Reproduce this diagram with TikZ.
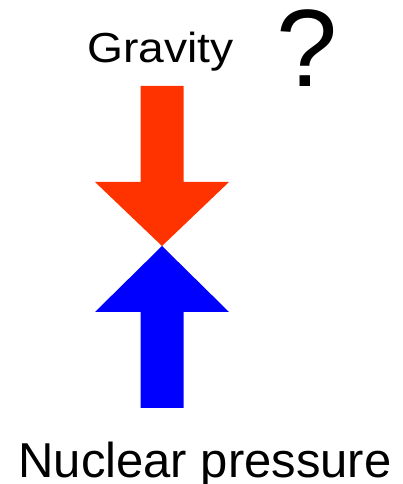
\documentclass[tikz,border=0pt]{standalone}
\usepackage{fontspec}
\setmainfont{Liberation Sans}
\definecolor{gravred}{HTML}{FF3300}
\definecolor{nucblue}{HTML}{0000FF}
\begin{document}
\begin{tikzpicture}[x=1pt,y=1pt,
  lbl/.style={inner sep=0pt,anchor=base}]
\useasboundingbox (0,0) rectangle (403,484);
% red arrow (gravity), pointing down
\fill[gravred] (140.5,398) -- (183.5,398) -- (183.5,302) -- (229,302) -- (162,238)
  -- (95,302) -- (140.5,302) -- cycle;
% blue arrow (nuclear pressure), pointing up
\fill[nucblue] (162,238) -- (229,172) -- (183.5,172) -- (183.5,76) -- (140.5,76)
  -- (140.5,172) -- (95,172) -- cycle;
\node[lbl,xscale=1.1] (grav) at (160.5,421) {\fontsize{42}{48}\selectfont Gravity};
\node[lbl] (q) at (307,397) {\fontsize{110}{120}\selectfont ?};
\node[lbl] (nuc) at (205,6) {\fontsize{49}{56}\selectfont Nuclear pressure};
\end{tikzpicture}
\end{document}
